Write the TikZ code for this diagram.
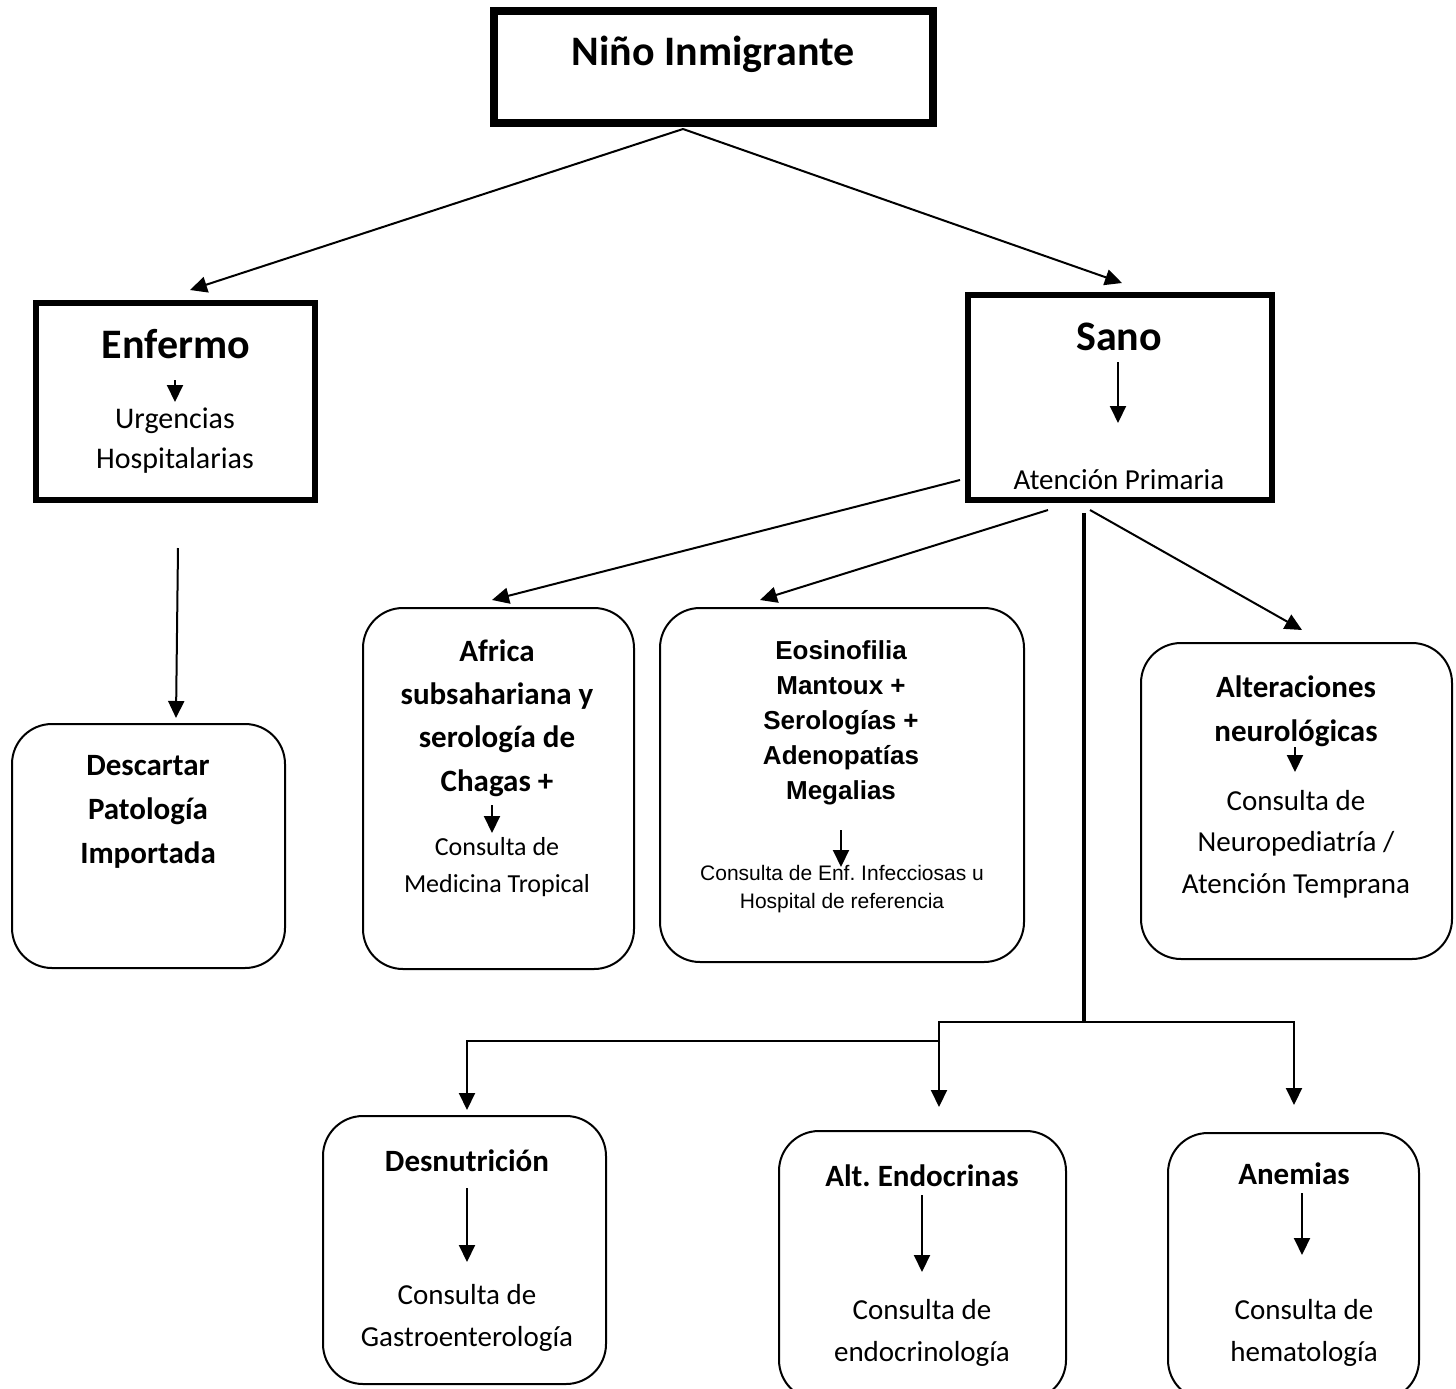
\documentclass[tikz,border=0pt]{standalone}
\usepackage{fontspec}
\setmainfont{Carlito}
\newfontfamily\arialf{Liberation Sans}
\usetikzlibrary{arrows.meta}
\frenchspacing
\begin{document}
\begin{tikzpicture}[x=1pt,y=-1pt,
  thickbox/.style={draw, rectangle, inner sep=0pt},
  rbox/.style={draw, line width=2pt, rounded corners=40pt, inner sep=0pt},
  conn/.style={line width=2pt, -{Triangle[length=17pt,width=16pt]}},
  plain/.style={line width=2pt},
  txt/.style={inner sep=0pt, align=center},
  title/.style={txt, font=\fontsize{42}{50}\selectfont\bfseries},
  head/.style={txt, font=\fontsize{31}{44}\selectfont\bfseries},
  body/.style={txt, font=\fontsize{29}{41.5}\selectfont},
]
\useasboundingbox (0,0) rectangle (1456,1389);

% boxes
\node[thickbox, line width=8pt, minimum width=439pt, minimum height=112pt] (nino) at (713.5,67) {};
\node[thickbox, line width=6pt, minimum width=279pt, minimum height=197pt] (enf) at (175.5,401.5) {};
\node[thickbox, line width=6pt, minimum width=304pt, minimum height=205pt] (sano) at (1120,397.5) {};
\node[rbox, minimum width=273pt, minimum height=244pt] (desc) at (148.5,846) {};
\node[rbox, minimum width=271pt, minimum height=361pt] (afr) at (498.5,788.5) {};
\node[rbox, minimum width=364pt, minimum height=354pt] (eos) at (842,785) {};
\node[rbox, minimum width=311pt, minimum height=316pt] (alt) at (1296.5,801) {};
\node[rbox, minimum width=283pt, minimum height=268pt] (desn) at (464.5,1250) {};
\node[rbox, minimum width=287pt, minimum height=269pt] (endo) at (922.5,1265.5) {};
\node[rbox, minimum width=251pt, minimum height=267pt] (anem) at (1293.5,1266.5) {};

% texts
\node[title] (tnino) at (713,54) {Niño Inmigrante};
\node[title] (tenf) at (176,344) {Enfermo};
\node[txt, font=\fontsize{30}{40}\selectfont] (benf) at (175,441) {Urgencias\\Hospitalarias};
\node[title] (tsano) at (1119,337) {Sano};
\node[body] (bsano) at (1119,480) {Atención Primaria};
\node[head] (tdesc) at (148,812) {Descartar\\Patología\\Importada};
\node[txt, font=\fontsize{31}{43.3}\selectfont\bfseries] (tafr) at (497,718) {Africa\\subsahariana y\\serología de\\Chagas +};
\node[txt, font=\fontsize{26}{37}\selectfont] (bafr) at (497,867) {Consulta de\\Medicina Tropical};
\node[txt, font=\fontsize{26}{35}\selectfont\arialf\bfseries] (teos) at (841,723) {Eosinofilia\\Mantoux +\\Serologías +\\Adenopatías\\Megalias};
\node[txt, font=\fontsize{21}{27.5}\selectfont\arialf] (beos) at (842,889) {Consulta de Enf.\ Infecciosas u\\Hospital de referencia};
\node[head] (talt) at (1296,711) {Alteraciones\\neurológicas};
\node[body] (balt) at (1296,844) {Consulta de\\Neuropediatría /\\Atención Temprana};
\node[head] (tdesn) at (467,1161) {Desnutrición};
\node[body] (bdesn) at (467,1318) {Consulta de\\Gastroenterología};
\node[head] (tendo) at (922,1176) {Alt.\ Endocrinas};
\node[body] (bendo) at (922,1333) {Consulta de\\endocrinología};
\node[head] (tanem) at (1294,1174) {Anemias};
\node[body] (banem) at (1304,1333) {Consulta de\\hematología};

% connector end points
\coordinate (apex) at (683,129);
\coordinate (a1) at (190,290);
\coordinate (a2) at (1122,283);
\coordinate (e1) at (178,548);
\coordinate (e2) at (176,718);
\coordinate (s1) at (960,480);
\coordinate (s1t) at (492,600);
\coordinate (s2) at (1048,510);
\coordinate (s2t) at (760,600);
\coordinate (s3) at (1090,510);
\coordinate (s3t) at (1302,630);
\coordinate (v1) at (1084,513);
\coordinate (v2) at (1084,1021.5);
\coordinate (h1t) at (939,1107);
\coordinate (h2t) at (1294,1105);
\coordinate (l1) at (940,1041);
\coordinate (l2t) at (467,1110);

% inner arrows
\coordinate (ie1) at (175,380); \coordinate (ie2) at (175,402);
\coordinate (is1) at (1118,362); \coordinate (is2) at (1118,423);
\coordinate (ia1) at (492,805); \coordinate (ia2) at (492,833);
\coordinate (io1) at (841,830); \coordinate (io2) at (841,867);
\coordinate (il1) at (1295,747); \coordinate (il2) at (1295,772);
\coordinate (id1) at (467,1188); \coordinate (id2) at (467,1262);
\coordinate (in1) at (922,1195); \coordinate (in2) at (922,1272);
\coordinate (ih1) at (1302,1193); \coordinate (ih2) at (1302,1255);

\draw[conn] (apex) -- (a1);
\draw[conn] (apex) -- (a2);
\draw[conn] (e1) -- (e2);
\draw[conn] (s1) -- (s1t);
\draw[conn] (s2) -- (s2t);
\draw[conn] (s3) -- (s3t);
\draw[plain, line width=3.5pt] (v1) -- (v2);
\draw[conn] (v2) -| (h1t);
\draw[conn] (v2) -| (h2t);
\draw[conn] (l1) -| (l2t);

\foreach \p/\q in {ie1/ie2, is1/is2, ia1/ia2, io1/io2, il1/il2, id1/id2, in1/in2, ih1/ih2}
  \draw[conn] (\p) -- (\q);
\end{tikzpicture}
\end{document}
